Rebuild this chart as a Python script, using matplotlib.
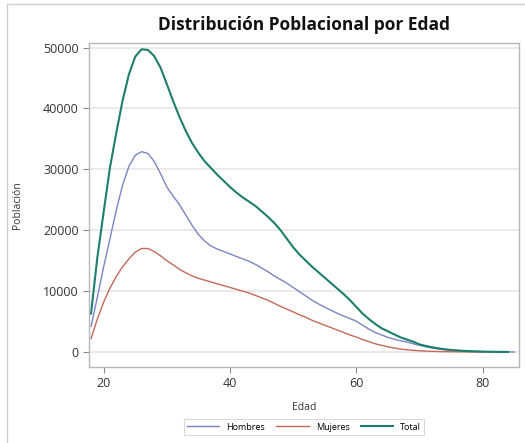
import matplotlib
matplotlib.use("Agg")
import matplotlib.pyplot as plt
from matplotlib.lines import Line2D

plt.rcParams['font.family'] = ['Open Sans', 'DejaVu Sans']

edades_h = list(range(18, 86))
hombres = [4200, 9000, 14000, 18600, 23300, 27400, 30500, 32300, 32900, 32600,
           31300, 29300, 27100, 25600, 24200, 22500, 20800, 19300, 18200, 17400,
           16900, 16500, 16100, 15700, 15300, 14900, 14400, 13800, 13200, 12500,
           11900, 11300, 10600, 9900, 9200, 8500, 7900, 7350, 6850, 6350,
           5900, 5500, 5050, 4400, 3750, 3200, 2800, 2400, 2100, 1850,
           1650, 1350, 1100, 850, 650, 500, 380, 290, 220, 160,
           120, 90, 65, 45, 30, 20, 12, 5]

edades_m = list(range(18, 85))
mujeres = [2200, 5400, 8200, 10500, 12400, 14000, 15300, 16400, 17000, 17000,
           16500, 15800, 15000, 14300, 13600, 13000, 12500, 12100, 11800, 11500,
           11200, 10900, 10600, 10300, 10000, 9700, 9300, 8900, 8500, 8000,
           7500, 7050, 6600, 6100, 5700, 5200, 4800, 4400, 4000, 3600,
           3200, 2800, 2450, 2050, 1700, 1350, 1100, 850, 650, 480,
           370, 270, 200, 150, 110, 80, 60, 45, 35, 25,
           18, 12, 9, 6, 4, 3, 2]

edades_t = list(range(18, 85))
total = [6300, 15500, 23000, 30300, 36000, 41300, 45600, 48500, 49700, 49600,
         48600, 46700, 44000, 41200, 38600, 36300, 34300, 32700, 31300, 30200,
         29100, 28100, 27100, 26200, 25400, 24700, 24000, 23100, 22200, 21200,
         20000, 18600, 17200, 16000, 15000, 14000, 13100, 12200, 11300, 10400,
         9500, 8500, 7400, 6300, 5400, 4600, 3900, 3400, 2900, 2400,
         2050, 1700, 1250, 1000, 780, 600, 450, 340, 260, 190,
         140, 100, 70, 50, 30, 20, 10]

x_ticks = [20, 40, 60, 80]
y_ticks = [0, 10000, 20000, 30000, 40000, 50000]

W, H = 525, 443
fig = plt.figure(figsize=(W / 100, H / 100), dpi=100)
ax = fig.add_axes([89 / W, 1 - 367 / H, (519 - 89) / W, (367 - 43) / H])

c_h = '#7B84C4'
c_m = '#C4685A'
c_t = '#1E7E6E'

ax.plot(edades_h, hombres, color=c_h, lw=1.0, label='Hombres')
ax.plot(edades_m, mujeres, color=c_m, lw=1.0, label='Mujeres')
ax.plot(edades_t, total, color=c_t, lw=1.5, label='Total')

ax.set_xlim(17.68, 85.75)
ax.set_ylim(-2460, 50740)
ax.set_xticks(x_ticks)
ax.set_yticks(y_ticks)
ax.yaxis.grid(True, color='#E6E6E6', lw=1.2)
ax.set_axisbelow(True)
for s in ax.spines.values():
    s.set_color('#B4B8BC')
    s.set_linewidth(1.0)
ax.tick_params(axis='both', colors='#8A8A8A', labelcolor='#333333',
               labelsize=9, length=4, width=0.8)

ax.set_xlabel('Edad', fontsize=7.5, color='#333333', labelpad=8)
ax.set_ylabel('Población', fontsize=7.5, color='#333333', labelpad=14)

fig.text(304 / W, 1 - 25 / H, 'Distribución Poblacional por Edad', ha='center',
         va='center', fontsize=12.5, fontweight='bold', color='#111111')

leg = fig.legend(handles=ax.get_lines(), labels=['Hombres', 'Mujeres', 'Total'],
                 loc='center', bbox_to_anchor=(304 / W, 1 - 427 / H), ncol=3,
                 fontsize=6.5, frameon=True, fancybox=False, handlelength=3.6,
                 columnspacing=1.2, handletextpad=0.8, borderpad=0.35,
                 edgecolor='#D0D0D0')
leg.get_frame().set_linewidth(0.8)

# outer frame
fig.add_artist(Line2D([7 / W, 7 / W], [0, 1 - 4 / H], transform=fig.transFigure,
                      color='#D0D0D0', lw=1.0))
fig.add_artist(Line2D([7 / W, 1], [1 - 4 / H, 1 - 4 / H], transform=fig.transFigure,
                      color='#D0D0D0', lw=1.0))

fig.savefig('out.png', dpi=100)
